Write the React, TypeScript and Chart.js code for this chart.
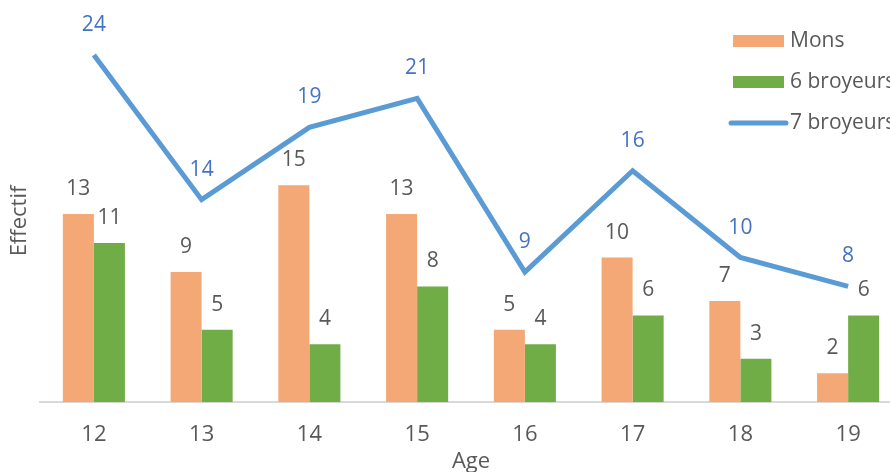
import React, { useEffect, useRef } from "react";
import { Chart, registerables } from "chart.js";

Chart.register(...registerables);

const ages = ["12", "13", "14", "15", "16", "17", "18", "19"];
const mons = [13, 9, 15, 13, 5, 10, 7, 2];
const broyeurs6 = [11, 5, 4, 8, 4, 6, 3, 6];
const broyeurs7 = [24, 14, 19, 21, 9, 16, 10, 8];
const yTitle = "Effectif";

const FONT = "'Open Sans', sans-serif";
const GREY = "#595959";
const ORANGE = "#F3A875";
const GREEN = "#70AD47";
const BLUE = "#5B9BD5";
const BLUE_TEXT = "#4472C4";

const labelPlugin = {
  id: "labels",
  afterDatasetsDraw(chart: any) {
    const ctx = chart.ctx;
    ctx.save();
    ctx.font = `21px ${FONT}`;
    ctx.textAlign = "center";
    ctx.textBaseline = "middle";
    chart.data.datasets.forEach((ds: any, i: number) => {
      const meta = chart.getDatasetMeta(i);
      meta.data.forEach((el: any, j: number) => {
        const v = ds.data[j];
        if (ds.type === "line") {
          ctx.fillStyle = BLUE_TEXT;
          ctx.fillText(String(v), el.x, el.y - 30);
        } else {
          ctx.fillStyle = GREY;
          ctx.fillText(String(v), el.x, el.y - 25);
        }
      });
    });
    ctx.restore();
  },
  afterDraw(chart: any) {
    const ctx = chart.ctx;
    ctx.save();
    // y axis title
    ctx.font = `22px ${FONT}`;
    ctx.fillStyle = GREY;
    ctx.textAlign = "center";
    ctx.textBaseline = "middle";
    ctx.translate(20, 221);
    ctx.rotate(-Math.PI / 2);
    ctx.fillText(yTitle, 0, 0);
    ctx.restore();

    ctx.save();
    ctx.font = `21px ${FONT}`;
    ctx.textAlign = "left";
    ctx.textBaseline = "middle";
    const x0 = 733;
    const items = [
      { label: "Mons", color: ORANGE, y: 41, kind: "box" },
      { label: "6 broyeurs", color: GREEN, y: 82, kind: "box" },
      { label: "7 broyeurs", color: BLUE, y: 123, kind: "line" },
    ];
    items.forEach((it) => {
      if (it.kind === "box") {
        ctx.fillStyle = it.color;
        ctx.fillRect(x0, it.y - 6, 51, 12);
      } else {
        ctx.strokeStyle = it.color;
        ctx.lineWidth = 5;
        ctx.lineCap = "round";
        ctx.beginPath();
        ctx.moveTo(x0 - 2, it.y);
        ctx.lineTo(x0 + 53, it.y);
        ctx.stroke();
      }
      ctx.fillStyle = GREY;
      ctx.fillText(it.label, x0 + 57, it.y);
    });
    ctx.restore();
  },
};

export default function App() {
  const ref = useRef<HTMLCanvasElement>(null);
  useEffect(() => {
    document.body.style.margin = "0";
    const chart = new Chart(ref.current!, {
      type: "bar",
      data: {
        labels: ages,
        datasets: [
          {
            type: "line",
            label: "7 broyeurs",
            data: broyeurs7,
            borderColor: BLUE,
            backgroundColor: BLUE,
            borderWidth: 5,
            pointRadius: 0,
            tension: 0,
            borderJoinStyle: "miter",
            order: 0,
          } as any,
          {
            type: "bar",
            label: "Mons",
            data: mons,
            backgroundColor: ORANGE,
            categoryPercentage: 0.576,
            barPercentage: 1,
            order: 1,
          },
          {
            type: "bar",
            label: "6 broyeurs",
            data: broyeurs6,
            backgroundColor: GREEN,
            categoryPercentage: 0.576,
            barPercentage: 1,
            order: 1,
          },
        ],
      },
      options: {
        animation: false,
        responsive: true,
        maintainAspectRatio: false,
        layout: { padding: { left: 40, right: 8, top: 0, bottom: -3 } },
        plugins: { legend: { display: false }, tooltip: { enabled: false } },
        scales: {
          x: {
            grid: { display: false },
            border: { color: "#D9D9D9", width: 2 },
            ticks: { color: GREY, font: { family: FONT, size: 22 }, padding: 11 },
            title: {
              display: true,
              text: "Age",
              color: GREY,
              font: { family: FONT, size: 22 },
              padding: { top: -10, bottom: 0 },
            },
          },
          y: {
            display: false,
            min: 0,
            max: 27.8,
          },
        },
      },
      plugins: [labelPlugin],
    });
    return () => chart.destroy();
  }, []);
  return (
    <div style={{ position: "fixed", left: 0, top: 0, width: 890, height: 472, overflow: "hidden", background: "#fff" }}>
      <div style={{ width: 910, height: 472, position: "relative" }}>
        <canvas ref={ref} />
      </div>
    </div>
  );
}
